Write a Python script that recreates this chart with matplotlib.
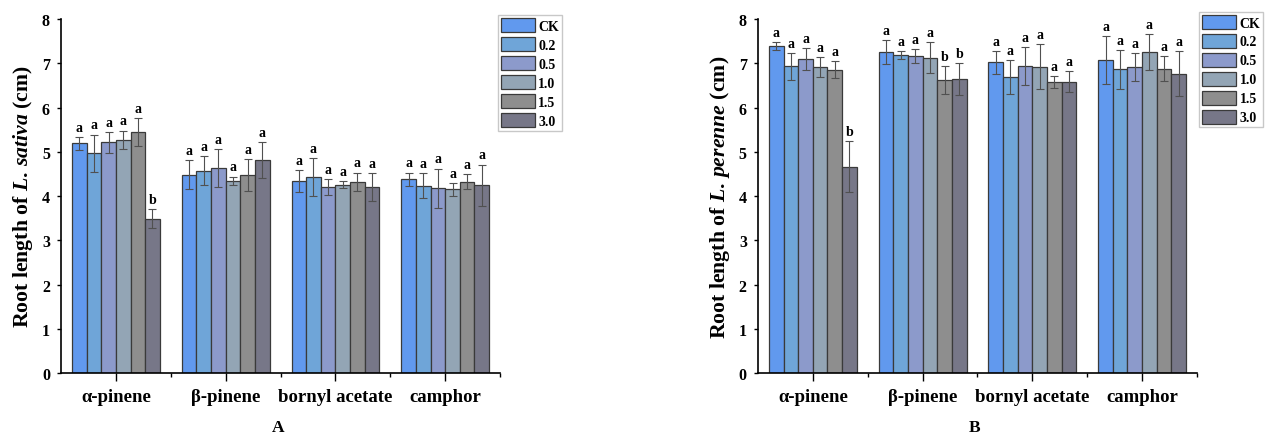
import matplotlib
matplotlib.use("Agg")
import matplotlib.pyplot as plt
import numpy as np
from matplotlib.ticker import FixedLocator

plt.rcParams['font.family'] = ['Liberation Serif', 'DejaVu Serif']
plt.rcParams['font.weight'] = 'bold'
plt.rcParams['mathtext.fontset'] = 'custom'
plt.rcParams['mathtext.rm'] = 'Liberation Serif:bold'
plt.rcParams['mathtext.it'] = 'Liberation Serif:italic:bold'

categories = ["α-pinene", "β-pinene", "bornyl acetate", "camphor"]
treatments = ["CK", "0.2", "0.5", "1.0", "1.5", "3.0"]
colors = ["#6199EE", "#6FA5D8", "#8C9ACB", "#93A5B5", "#8E8E8E", "#777788"]

# Panel A: L. sativa  (rows = treatments, cols = categories)
a_mean = [
    [5.19, 4.48, 4.34, 4.38],
    [4.97, 4.57, 4.42, 4.23],
    [5.21, 4.64, 4.20, 4.17],
    [5.27, 4.34, 4.26, 4.15],
    [5.44, 4.47, 4.32, 4.32],
    [3.49, 4.81, 4.20, 4.24],
]
a_err = [
    [0.15, 0.33, 0.24, 0.15],
    [0.42, 0.33, 0.43, 0.28],
    [0.23, 0.43, 0.18, 0.45],
    [0.21, 0.10, 0.07, 0.14],
    [0.32, 0.36, 0.21, 0.17],
    [0.22, 0.40, 0.31, 0.47],
]
a_letters = [
    ["a", "a", "a", "a"],
    ["a", "a", "a", "a"],
    ["a", "a", "a", "a"],
    ["a", "a", "a", "a"],
    ["a", "a", "a", "a"],
    ["b", "a", "a", "a"],
]

# Panel B: L. perenne
b_mean = [
    [7.38, 7.26, 7.02, 7.07],
    [6.93, 7.18, 6.69, 6.86],
    [7.09, 7.16, 6.94, 6.92],
    [6.92, 7.13, 6.92, 7.25],
    [6.85, 6.62, 6.58, 6.88],
    [4.66, 6.64, 6.58, 6.76],
]
b_err = [
    [0.09, 0.27, 0.26, 0.54],
    [0.30, 0.09, 0.39, 0.44],
    [0.25, 0.16, 0.42, 0.31],
    [0.23, 0.34, 0.51, 0.40],
    [0.19, 0.31, 0.13, 0.28],
    [0.58, 0.36, 0.24, 0.51],
]
b_letters = [
    ["a", "a", "a", "a"],
    ["a", "a", "a", "a"],
    ["a", "a", "a", "a"],
    ["a", "a", "a", "a"],
    ["a", "b", "a", "a"],
    ["b", "b", "a", "a"],
]

fig = plt.figure(figsize=(12.66, 4.35), dpi=100)
axA = fig.add_axes([0.0482, 0.1402, 0.3468, 0.8138])
axB = fig.add_axes([0.5987, 0.1402, 0.3468, 0.8138])

def draw(ax, means, errs, letters, species, legend_pos):
    x = np.arange(len(categories))
    n = len(treatments)
    w = 0.8 / n
    for i in range(n):
        xi = x - 0.4 + w * (i + 0.5)
        ax.bar(xi, means[i], width=w, color=colors[i], edgecolor="#3a3a3a",
               linewidth=0.9, label=treatments[i], zorder=2)
        ax.errorbar(xi, means[i], yerr=errs[i], fmt="none", ecolor="#505050",
                    elinewidth=0.8, capsize=3, capthick=0.8, zorder=3)
        for j in range(len(categories)):
            ax.text(xi[j], means[i][j] + errs[i][j] + 0.07, letters[i][j],
                    ha="center", va="bottom", fontsize=10, fontweight="bold")
    ax.set_xlim(-0.5, 3.5)
    ax.set_ylim(0, 8)
    ax.set_yticks(range(0, 9))
    ax.set_xticks(x)
    ax.set_xticklabels(categories, fontsize=13.5, fontweight="bold")
    ax.xaxis.set_minor_locator(FixedLocator([0.5, 1.5, 2.5, 3.5]))
    ax.tick_params(axis="y", direction="out", length=3, width=1, labelsize=11.5, pad=5)
    ax.tick_params(axis="x", which="major", direction="out", length=6, width=1, pad=5)
    ax.tick_params(axis="x", which="minor", direction="out", length=3, width=1)
    for s in ["top", "right"]:
        ax.spines[s].set_visible(False)
    for s in ["left", "bottom"]:
        ax.spines[s].set_linewidth(1.2)
    ax.set_ylabel(r"Root length of $L.\," + species + r"$ (cm)", fontsize=15.7,
                  fontweight="bold", labelpad=5)
    leg = ax.legend(loc="upper left", bbox_to_anchor=legend_pos, fontsize=10,
                    frameon=True, fancybox=False, edgecolor="#bbbbbb",
                    handlelength=2.45, handleheight=1.2, handletextpad=0.25,
                    labelspacing=0.3, borderpad=0.2, borderaxespad=0.0)
    leg.get_frame().set_linewidth(1.0)
    for t in leg.get_texts():
        t.set_fontweight("bold")

draw(axA, a_mean, a_err, a_letters, "sativa", (0.995, 1.01))
draw(axB, b_mean, b_err, b_letters, "perenne", (1.005, 1.02))

fig.text(278 / 1266, 1 - 428 / 435, "A", ha="center", va="center",
         fontsize=12.5, fontweight="bold")
fig.text(975 / 1266, 1 - 428 / 435, "B", ha="center", va="center",
         fontsize=12.5, fontweight="bold")

fig.savefig("out.png", dpi=100)
